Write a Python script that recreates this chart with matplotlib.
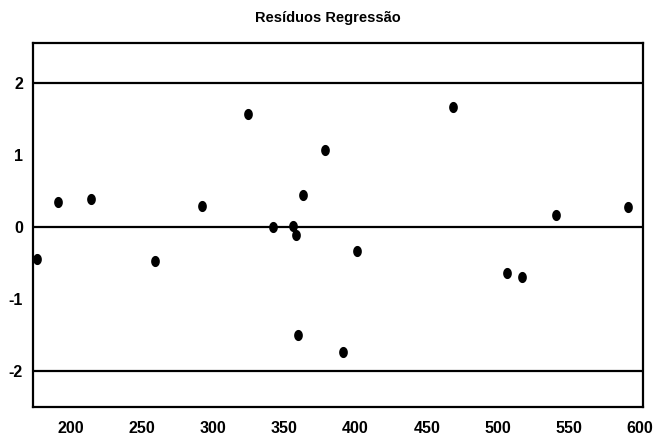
import numpy as np
from matplotlib import pyplot as plt

plt.rcParams['font.family'] = ['Liberation Sans', 'DejaVu Sans']
plt.rcParams['axes.unicode_minus'] = False

# residuals
x_values = [175.8, 190.6, 213.8, 259.0, 292.0, 324.4, 342.0, 356.0, 358.0, 363.0,
            378.6, 359.6, 391.0, 401.0, 468.8, 506.8, 516.7, 540.6, 591.3]
residuals = [-0.44, 0.34, 0.38, -0.48, 0.29, 1.57, 0.0, 0.01, -0.11, 0.44,
             1.07, -1.50, -1.73, -0.33, 1.66, -0.64, -0.69, 0.17, 0.28]
limit_lines = [2, 0, -2]
x_ticks = [200, 250, 300, 350, 400, 450, 500, 550, 600]
y_ticks = [-2, -1, 0, 1, 2]

fig = plt.figure(figsize=(6.56, 4.40), dpi=100)
ax = fig.add_axes([0.05, 0.075, 0.93, 0.827])

for level in limit_lines:
    ax.axhline(y=level, color='black', linewidth=1.6)

# slightly tall ellipse marker like the scanned dots
t = np.linspace(0, 2 * np.pi, 40)
ellipse = np.column_stack([0.75 * np.cos(t), np.sin(t)])
ax.plot(x_values, residuals, linestyle='none', marker=ellipse, color='black',
        markersize=7, clip_on=True)

ax.set_xlim(173, 602)
ax.set_ylim(-2.5, 2.55)
ax.set_xticks(x_ticks)
ax.set_yticks(y_ticks)
ax.tick_params(length=0, labelsize=11.5, pad=10)
ax.tick_params(axis='y', pad=7)
for lbl in ax.get_xticklabels() + ax.get_yticklabels():
    lbl.set_fontweight('bold')
for sp in ax.spines.values():
    sp.set_linewidth(1.6)

fig.text(0.5, 0.958, 'Resíduos Regressão', ha='center', va='center',
         fontsize=10.5, fontweight='bold')

plt.savefig('out.png', dpi=100)
